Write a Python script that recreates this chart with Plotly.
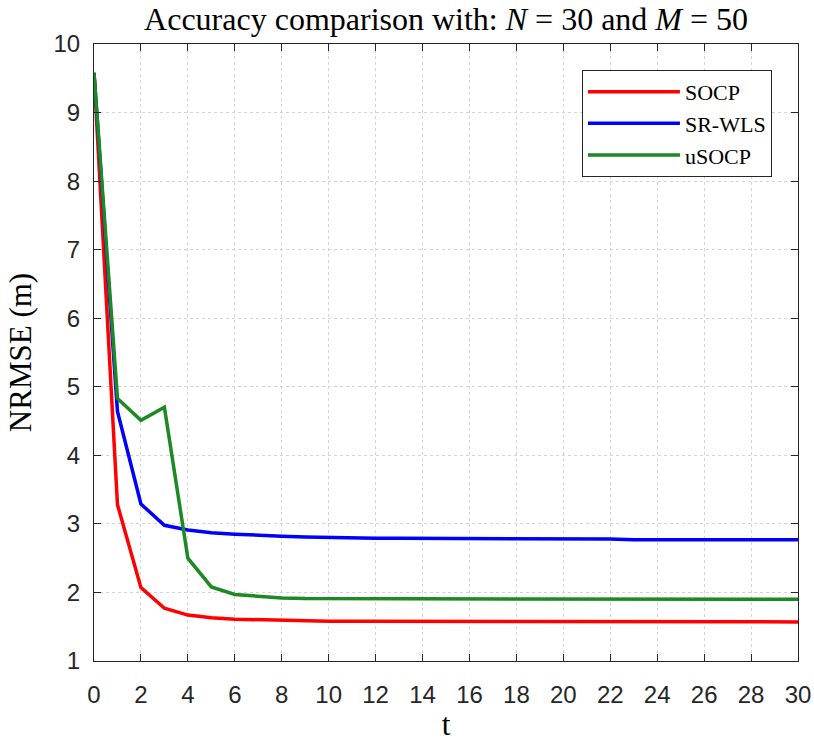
import plotly.graph_objects as go

t = list(range(31))
socp = [9.58, 3.28, 2.07, 1.77, 1.67, 1.63, 1.61, 1.60, 1.59, 1.59, 1.58,
        1.58, 1.58, 1.58, 1.57, 1.57, 1.57, 1.57, 1.57, 1.57, 1.57,
        1.57, 1.57, 1.57, 1.57, 1.57, 1.57, 1.57, 1.57, 1.57, 1.57]
srwls = [9.58, 4.64, 3.29, 2.98, 2.91, 2.87, 2.85, 2.83, 2.82, 2.81, 2.80,
         2.80, 2.79, 2.79, 2.79, 2.78, 2.78, 2.78, 2.78, 2.78, 2.78,
         2.78, 2.78, 2.77, 2.77, 2.77, 2.77, 2.77, 2.77, 2.77, 2.77]
usocp = [9.58, 4.83, 4.51, 4.70, 2.50, 2.08, 1.97, 1.94, 1.92, 1.91, 1.91,
         1.90, 1.90, 1.90, 1.90, 1.90, 1.90, 1.90, 1.90, 1.90, 1.90,
         1.90, 1.90, 1.90, 1.90, 1.90, 1.90, 1.90, 1.90, 1.90, 1.90]

names = ["SOCP", "SR-WLS", "uSOCP"]
colors = ["#FF0000", "#0000FF", "#1B8A22"]
series = [socp, srwls, usocp]

serif = "Liberation Serif, DejaVu Serif, serif"
sans = "Liberation Sans, Arial, sans-serif"

fig = go.Figure()
for n, c, s in zip(names, colors, series):
    fig.add_trace(go.Scatter(x=t, y=s, mode="lines", name=n,
                             line=dict(color=c, width=3.5)))

axis_common = dict(
    showline=True, linecolor="#262626", linewidth=1, mirror="ticks",
    ticks="inside", ticklen=7, tickcolor="#262626",
    showgrid=True, gridcolor="#D4D4D4", griddash="dot", gridwidth=1,
    zeroline=False, automargin=False,
    tickfont=dict(family=sans, size=24, color="#262626"),
)

fig.update_layout(
    width=814, height=742,
    margin=dict(l=94, r=16, t=44, b=81),
    plot_bgcolor="white", paper_bgcolor="white",
    title=dict(text="Accuracy comparison with: <i>N</i> = 30 and <i>M</i> = 50",
               x=0.548, xanchor="center", y=0.975, yanchor="middle",
               font=dict(family=serif, size=32, color="black")),
    xaxis=dict(range=[0, 30], dtick=2, tick0=0, ticklabelstandoff=12,
               title=dict(text="t", font=dict(family=serif, size=31, color="black"), standoff=7),
               **axis_common),
    yaxis=dict(range=[1, 10], dtick=1, tick0=1, ticklabelstandoff=8,
               title=dict(text="NRMSE (m)", font=dict(family=serif, size=31, color="black"), standoff=12),
               **axis_common),
    legend=dict(x=0.963, y=0.958, xanchor="right", yanchor="top",
                bgcolor="white", bordercolor="#262626", borderwidth=1,
                font=dict(family=serif, size=22, color="black"),
                itemwidth=92,
                tracegroupgap=0),
    showlegend=True,
)

fig.write_html("out.html")
